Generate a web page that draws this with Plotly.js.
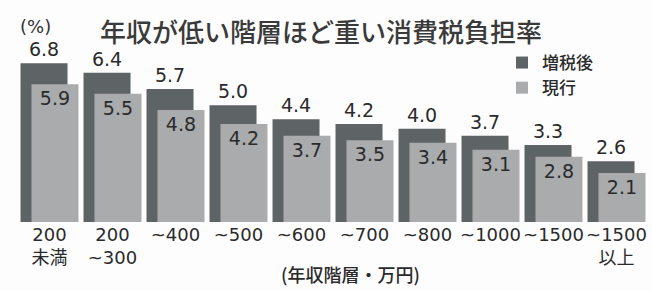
<!DOCTYPE html>
<html><head><meta charset="utf-8">
<script src="https://cdn.plot.ly/plotly-3.0.1.min.js"></script>
<style>html,body{margin:0;padding:0;background:#fdfdfd;}</style>
</head><body>
<div id="chart" style="width:652px;height:291px;"></div>
<script>
const categories = ["200<br>未満", "200<br>~300", "~400", "~500", "~600", "~700", "~800", "~1000", "~1500", "~1500<br>以上"];
const afterIncrease = [6.8, 6.4, 5.7, 5.0, 4.4, 4.2, 4.0, 3.7, 3.3, 2.6];
const current = [5.9, 5.5, 4.8, 4.2, 3.7, 3.5, 3.4, 3.1, 2.8, 2.1];
const seriesNames = ["増税後", "現行"];

const FONT = "DejaVu Sans, Noto Sans CJK JP, sans-serif";
const JP = "Noto Sans CJK JP, sans-serif";
const traces = [
  {
    type: "bar", name: seriesNames[0], x: categories, y: afterIncrease,
    offset: -0.46, width: 0.746,
    marker: {color: "#5e6366", line: {width: 0}},
    text: afterIncrease.map(v => v.toFixed(1)), textposition: "outside",
    textfont: {size: 19, color: "#2a2a2a", family: FONT},
    constraintext: "none", cliponaxis: false, hoverinfo: "skip"
  },
  {
    type: "bar", name: seriesNames[1], x: categories, y: current,
    offset: -0.286, width: 0.746,
    marker: {color: "#a9abac", line: {width: 0}},
    text: current.map(v => v.toFixed(1)), textposition: "inside", insidetextanchor: "end",
    textfont: {size: 19, color: "#2a2a2a", family: FONT},
    constraintext: "none", cliponaxis: false, hoverinfo: "skip"
  }
];

const layout = {
  width: 652, height: 291,
  margin: {l: 18, r: 4, t: 47, b: 69},
  paper_bgcolor: "#fdfdfd", plot_bgcolor: "#fdfdfd",
  barmode: "overlay",
  font: {family: FONT, color: "#2a2a2a"},
  title: {
    text: "年収が低い階層ほど重い消費税負担率",
    font: {family: JP, size: 26, color: "#3a3a3a", weight: 500},
    xref: "container", yref: "container", x: 100/652, xanchor: "left",
    y: 1 - 33/291, yanchor: "middle"
  },
  xaxis: {
    type: "category", range: [-0.5, 9.5], showgrid: false, zeroline: false,
    showline: false, ticks: "", tickfont: {size: 18, color: "#2a2a2a", family: FONT},
    fixedrange: true
  },
  yaxis: {range: [0, 7.5], visible: false, fixedrange: true},
  showlegend: true,
  legend: {
    x: (502-18)/630, y: (222-45)/175, xanchor: "left", yanchor: "top",
    bgcolor: "rgba(0,0,0,0)", font: {size: 17, family: JP, color: "#2a2a2a", weight: 500},
    itemwidth: 30, tracegroupgap: 0
  },
  annotations: [
    {text: "(%)", xref: "paper", yref: "paper", x: 0, xshift: 0, y: (222-27)/175,
     xanchor: "left", yanchor: "middle", showarrow: false,
     font: {size: 18, family: FONT, color: "#333"}},
    {text: "(年収階層・万円)", xref: "paper", yref: "paper", x: (350-18)/630, y: (222-274)/175,
     xanchor: "center", yanchor: "middle", showarrow: false,
     font: {size: 18, family: JP, color: "#2a2a2a", weight: 500}}
  ]
};

Plotly.newPlot("chart", traces, layout, {displayModeBar: false, staticPlot: true});
</script>
</body></html>
